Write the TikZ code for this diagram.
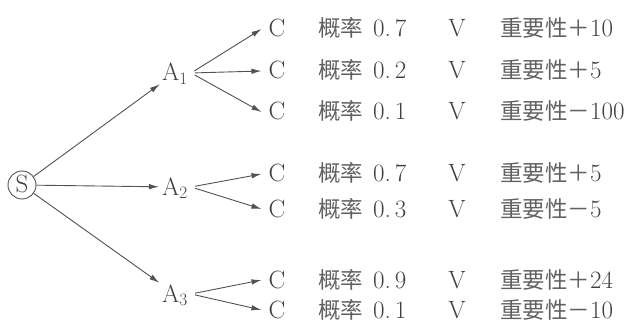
\documentclass[tikz,border=0pt]{standalone}
\usepackage{fontspec}
\newfontfamily\cjk[Scale=0.9]{Noto Sans CJK SC}
\usetikzlibrary{arrows.meta}
\colorlet{InkText}{black!75}
\colorlet{InkCjk}{black!62}
\colorlet{InkLine}{black!68}
\newcommand{\Outcome}[5]%
% name, y, probability, sign, value
{   \node[outcome] (#1) at (277,#2) {C};
    \node[prob] (#1p) at (318,#2) {{\cjk\color{InkCjk}概率}\hspace{10pt}#3};
    \node[vee] (#1v) at (457,#2) {V};
    \node[worth] (#1w) at (500,#2) {{\cjk\color{InkCjk}重要性#4}#5};
}

\begin{document}
\begin{tikzpicture}
[   x=1pt, y=-1pt,
    every node/.style={text=InkText, font=\fontsize{25}{29}\selectfont,
        text height=17pt, text depth=1pt},
    start/.style={circle, draw=InkLine, line width=0.9pt, minimum size=28pt, inner sep=0},
    act/.style={inner xsep=3pt, inner ysep=2pt},
    outcome/.style={inner xsep=7pt, inner ysep=0},
    prob/.style={anchor=west, inner sep=0},
    vee/.style={inner sep=0},
    worth/.style={anchor=west, inner sep=0},
    arr/.style={draw=InkLine, line width=0.9pt, -{Latex[length=10pt,width=5.5pt]}},
    branch/.style={arr, shorten <=4pt}
]
    \useasboundingbox (0,0) rectangle (638,329);

    % decision and actions
    \node[start] (S) at (22,185) {S};
    \node[act] (A1) at (175,73) {A$_1$};
    \node[act] (A2) at (175,187) {A$_2$};
    \node[act] (A3) at (175,294) {A$_3$};

    % outcomes
    \Outcome{C11}{29}{0.\hspace{4pt}7}{＋}{10}
    \Outcome{C12}{71}{0.\hspace{4pt}2}{＋}{5}
    \Outcome{C13}{112}{0.\hspace{4pt}1}{－}{100}
    \Outcome{C21}{174}{0.\hspace{4pt}7}{＋}{5}
    \Outcome{C22}{209}{0.\hspace{4pt}3}{－}{5}
    \Outcome{C31}{280}{0.\hspace{4pt}9}{＋}{24}
    \Outcome{C32}{310}{0.\hspace{4pt}1}{－}{10}

    \foreach \a in {1,2,3}
        \draw[arr] (S) -- (A\a);
    \foreach \c in {C11,C12,C13}
        \draw[branch] (A1.east) -- (\c.west);
    \foreach \c in {C21,C22}
        \draw[branch] (A2.east) -- (\c.west);
    \foreach \c in {C31,C32}
        \draw[branch] (A3.east) -- (\c.west);
\end{tikzpicture}
\end{document}
